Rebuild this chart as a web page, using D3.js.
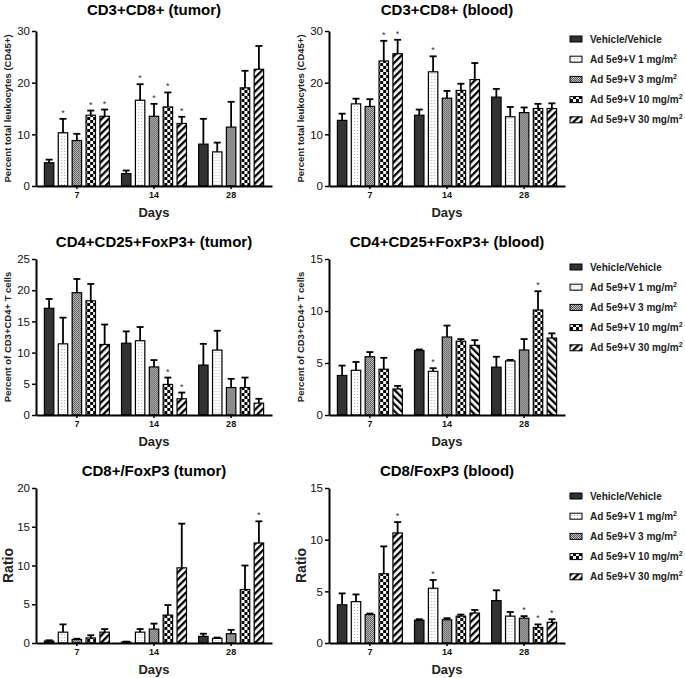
<!DOCTYPE html>
<html><head><meta charset="utf-8">
<script src="https://cdn.jsdelivr.net/npm/d3@7"></script>
<style>body{margin:0;background:#fff}svg{display:block}text{font-family:"Liberation Sans",Arial,sans-serif}</style>
</head><body>
<svg id="c" width="685" height="678"></svg>
<script>
const days = ["7","14","28"];
const groups = ["Vehicle/Vehicle","Ad 5e9+V 1 mg/m","Ad 5e9+V 3 mg/m","Ad 5e9+V 10 mg/m","Ad 5e9+V 30 mg/m"];
const groupSup = ["","2","2","2","2"];

// CD3+CD8+ (tumor)
const cd8TumorMean = [[4.5,10.3,8.8,13.7,13.5],[2.4,16.6,13.5,15.3,12.1],[8.1,6.6,11.4,19.0,22.6]];
const cd8TumorSem  = [[0.6,2.7,1.3,0.9,1.3],[0.6,3.1,2.4,2.8,1.3],[4.9,1.8,4.9,3.3,4.5]];
const cd8TumorSig  = [[0,1,0,1,1],[0,1,1,1,1],[0,0,0,0,0]];
// CD3+CD8+ (blood)
const cd8BloodMean = [[12.7,15.9,15.4,24.2,25.6],[13.7,22.1,17.0,18.5,20.6],[17.2,13.4,14.2,15.0,15.0]];
const cd8BloodSem  = [[1.3,1.0,1.4,3.9,2.7],[1.1,3.0,1.4,1.3,3.2],[1.6,1.9,1.0,0.9,1.0]];
const cd8BloodSig  = [[0,0,0,1,1],[0,1,0,0,0],[0,0,0,0,0]];
// CD4+CD25+FoxP3+ (tumor)
const tregTumorMean = [[17.1,11.4,19.6,18.3,11.3],[11.5,11.9,7.7,4.9,2.6],[8.0,10.4,4.4,4.4,1.9]];
const tregTumorSem  = [[1.5,4.2,2.2,2.7,3.2],[1.9,2.2,1.1,1.1,1.0],[3.4,3.1,1.4,1.6,0.7]];
const tregTumorSig  = [[0,0,0,0,0],[0,0,0,1,1],[0,0,0,0,0]];
// CD4+CD25+FoxP3+ (blood)
const tregBloodMean = [[3.8,4.3,5.6,4.4,2.5],[6.2,4.2,7.5,7.1,6.7],[4.6,5.2,6.25,10.1,7.4]];
const tregBloodSem  = [[0.95,0.8,0.45,1.1,0.3],[0.1,0.3,1.1,0.2,0.5],[1.0,0.1,1.05,1.8,0.45]];
const tregBloodSig  = [[0,0,0,0,0],[0,1,0,0,0],[0,0,0,1,0]];
// CD8+/FoxP3 (tumor)
const ratioTumorMean = [[0.25,1.4,0.45,0.65,1.4],[0.12,1.4,1.8,3.6,9.7],[0.85,0.6,1.2,6.9,12.9]];
const ratioTumorSem  = [[0.1,1.0,0.1,0.35,0.4],[0.06,0.4,0.7,1.3,5.7],[0.35,0.1,0.5,3.1,2.8]];
const ratioTumorSig  = [[0,0,0,0,0],[0,0,0,0,0],[0,0,0,0,1]];
// CD8/FoxP3 (blood)
const ratioBloodMean = [[3.7,4.0,2.75,6.7,10.65],[2.2,5.3,2.25,2.6,2.9],[4.1,2.6,2.4,1.5,2.0]];
const ratioBloodSem  = [[1.1,0.7,0.1,2.65,1.05],[0.1,0.8,0.15,0.15,0.3],[1.0,0.4,0.2,0.3,0.3]];
const ratioBloodSig  = [[0,0,0,0,1],[0,1,0,0,0],[0,0,1,1,1]];

const ticks30 = [0,10,20,30], ticks25 = [0,5,10,15,20,25], ticks15 = [0,5,10,15], ticks20 = [0,5,10,15,20];

const panels = [
  {title:"CD3+CD8+ (tumor)", ylab:"Percent total leukocytes (CD45+)", mean:cd8TumorMean, sem:cd8TumorSem, sig:cd8TumorSig, max:30, ticks:ticks30, col:0, row:0, hatch:"h1"},
  {title:"CD3+CD8+ (blood)", ylab:"Percent total leukocytes (CD45+)", mean:cd8BloodMean, sem:cd8BloodSem, sig:cd8BloodSig, max:30, ticks:ticks30, col:1, row:0, hatch:"h1"},
  {title:"CD4+CD25+FoxP3+ (tumor)", ylab:"Percent of CD3+CD4+ T cells", mean:tregTumorMean, sem:tregTumorSem, sig:tregTumorSig, max:25, ticks:ticks25, col:0, row:1, hatch:"h1"},
  {title:"CD4+CD25+FoxP3+ (blood)", ylab:"Percent of CD3+CD4+ T cells", mean:tregBloodMean, sem:tregBloodSem, sig:tregBloodSig, max:15, ticks:ticks15, col:1, row:1, hatch:"h2"},
  {title:"CD8+/FoxP3 (tumor)", ylab:"Ratio", big:true, mean:ratioTumorMean, sem:ratioTumorSem, sig:ratioTumorSig, max:20, ticks:ticks20, col:0, row:2, hatch:"h1"},
  {title:"CD8/FoxP3 (blood)", ylab:"Ratio", big:true, mean:ratioBloodMean, sem:ratioBloodSem, sig:ratioBloodSig, max:15, ticks:ticks15, col:1, row:2, hatch:"h1"}
];

const colX = [36, 329];
const rowTop = [31, 259, 488], rowBot = [186, 415, 643], titleY = [15, 247, 476];
const W = 236;

const svg = d3.select("#c");
const defs = svg.append("defs");
// 1 mg: light stipple
let p = defs.append("pattern").attr("id","p1").attr("width",3).attr("height",3).attr("patternUnits","userSpaceOnUse");
p.append("rect").attr("width",3).attr("height",3).attr("fill","#fff");
p.append("rect").attr("x",1).attr("y",1).attr("width",1).attr("height",1).attr("fill","#aaa");
// 3 mg: grey fine texture
p = defs.append("pattern").attr("id","p3").attr("width",2).attr("height",2).attr("patternUnits","userSpaceOnUse");
p.append("rect").attr("width",2).attr("height",2).attr("fill","#c4c4c4");
p.append("rect").attr("width",1).attr("height",1).attr("fill","#555");
p.append("rect").attr("x",1).attr("y",1).attr("width",1).attr("height",1).attr("fill","#555");
// 10 mg: checkerboard
p = defs.append("pattern").attr("id","p10").attr("width",6).attr("height",6).attr("patternUnits","userSpaceOnUse");
p.append("rect").attr("width",6).attr("height",6).attr("fill","#fff");
p.append("rect").attr("width",3).attr("height",3).attr("fill","#000");
p.append("rect").attr("x",3).attr("y",3).attr("width",3).attr("height",3).attr("fill","#000");
// 30 mg: diagonal hatching
[["h1",45],["h2",-45]].forEach(([id,a])=>{
  const q = defs.append("pattern").attr("id",id).attr("width",5).attr("height",5).attr("patternUnits","userSpaceOnUse").attr("patternTransform",`rotate(${a})`);
  q.append("rect").attr("width",5).attr("height",5).attr("fill","#fff");
  q.append("rect").attr("width",2.3).attr("height",5).attr("fill","#000");
});
const fills = (h)=>["#333","url(#p1)","url(#p3)","url(#p10)",`url(#${h})`];

panels.forEach(P=>{
  const ox = colX[P.col], y0 = rowBot[P.row], y1 = rowTop[P.row];
  const g = svg.append("g").attr("transform",`translate(${ox},0)`);
  const x0 = d3.scaleBand().domain(days).range([0,W]).paddingInner(0.1).paddingOuter(0.08);
  const x1 = d3.scaleBand().domain(d3.range(5)).range([0,x0.bandwidth()]).paddingInner(0.32).paddingOuter(0.16);
  const y = d3.scaleLinear().domain([0,P.max]).range([y0,y1]);
  const F = fills(P.hatch);

  days.forEach((d,di)=>{
    const gg = g.append("g").attr("transform",`translate(${x0(d)},0)`);
    d3.range(5).forEach(si=>{
      const m = P.mean[di][si], s = P.sem[di][si];
      const bx = x1(si), bw = x1.bandwidth(), cx = bx + bw/2;
      gg.append("rect").attr("x",bx).attr("y",y(m)).attr("width",bw).attr("height",y0-y(m))
        .attr("fill",F[si]).attr("stroke","#000").attr("stroke-width",1.2);
      gg.append("line").attr("x1",cx).attr("x2",cx).attr("y1",y(m)).attr("y2",y(m+s)).attr("stroke","#000").attr("stroke-width",1.8);
      gg.append("line").attr("x1",cx-3.5).attr("x2",cx+3.5).attr("y1",y(m+s)).attr("y2",y(m+s)).attr("stroke","#000").attr("stroke-width",1.8);
      if (P.sig[di][si]) gg.append("text").attr("x",cx).attr("y",y(m+s)-3).attr("text-anchor","middle").attr("font-size",9).attr("fill","#333").text("*");
    });
  });

  const ya = g.append("g").call(d3.axisLeft(y).tickValues(P.ticks).tickSize(4).tickSizeOuter(0).tickPadding(2));
  ya.select(".domain").attr("stroke-width",2);
  ya.selectAll(".tick line").attr("stroke-width",1.5);
  ya.selectAll(".tick text").attr("font-size",11.5).attr("font-family","Liberation Sans, Arial, sans-serif").attr("fill","#111");

  const xa = g.append("g").attr("transform",`translate(0,${y0})`).call(d3.axisBottom(x0).tickSize(3).tickSizeOuter(0).tickPadding(3));
  xa.select(".domain").attr("stroke-width",2);
  xa.selectAll(".tick line").attr("stroke-width",1.5);
  xa.selectAll(".tick text").attr("font-size",9).attr("font-weight","bold").attr("font-family","Liberation Sans, Arial, sans-serif").attr("fill","#111");

  g.append("text").attr("x",W/2).attr("y",titleY[P.row]).attr("text-anchor","middle").attr("font-size",15).attr("font-weight","bold").text(P.title);
  g.append("text").attr("x",W/2).attr("y",y0+31).attr("text-anchor","middle").attr("font-size",13).attr("font-weight","bold").attr("fill","#222").text("Days");
  g.append("text").attr("transform",`translate(${-28},${(y0+y1)/2}) rotate(-90)`).attr("text-anchor","middle")
    .attr("dy", P.big ? "0.35em" : "0.35em")
    .attr("font-size",P.big?14:9.5).attr("font-weight","bold").attr("fill","#222").text(P.ylab);
});

// legends
rowTop.forEach(t=>{
  const lg = svg.append("g").attr("transform",`translate(570,${t+8})`);
  groups.forEach((name,i)=>{
    const yy = i*20.2;
    lg.append("rect").attr("x",0).attr("y",yy-3).attr("width",12).attr("height",6)
      .attr("fill",fills("h1")[i]).attr("stroke","#000").attr("stroke-width",1);
    const tx = lg.append("text").attr("x",20).attr("y",yy+3.5).attr("font-size",10).attr("font-weight","bold").attr("fill","#222").text(name);
    if (groupSup[i]) tx.append("tspan").attr("dy",-4).attr("font-size",7).text(groupSup[i]);
  });
});
</script>
</body></html>
